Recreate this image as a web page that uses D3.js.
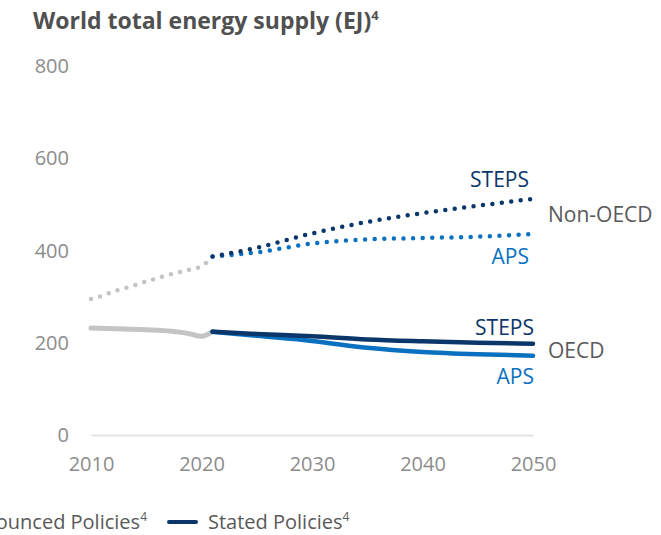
<!DOCTYPE html>
<html>
<head>
<meta charset="utf-8">
<script src="https://cdn.jsdelivr.net/npm/d3@7"></script>
<style>
  html, body { margin: 0; padding: 0; background: #fff; }
  svg { display: block; font-family: "Open Sans", "Noto Sans", sans-serif; }
</style>
</head>
<body>
<svg id="chart" width="661" height="535"></svg>
<script>
// ---- Data ----
const histYears = [2010, 2011, 2012, 2013, 2014, 2015, 2016, 2017, 2018, 2019, 2020, 2021];
const nonOecdHist = [295, 302, 311, 318, 325, 333, 340, 347, 353, 359, 366, 387];
const oecdHistYears = [2010, 2013, 2016, 2018, 2019, 2020, 2021];
const oecdHist = [232, 230, 227, 223, 219, 214, 224];

const projYears = [2021, 2025, 2030, 2035, 2040, 2045, 2050];
const nonOecdSteps = [387, 406, 437, 462, 481, 497, 512];
const nonOecdAps = [387, 396, 415, 424, 427, 430, 436];
const oecdSteps = [224, 219, 214, 207, 203, 200, 198];
const oecdAps = [224, 215, 204, 189, 180, 175, 172];

const yTicks = [0, 200, 400, 600, 800];
const xTicks = [2010, 2020, 2030, 2040, 2050];

const title = "World total energy supply (EJ)";
const legendItems = [
  { label: "Announced Policies", sup: "4", color: "#0a71c0" },
  { label: "Stated Policies", sup: "4", color: "#0b3669" }
];

// ---- Colors ----
const NAVY = "#0b3669", BLUE = "#0a71c0", GRAY = "#c4c4c4";

const svg = d3.select("#chart");
const x = d3.scaleLinear().domain([2010, 2050]).range([91, 533]);
const y = d3.scaleLinear().domain([0, 800]).range([435, 66]);

// Title
const t = svg.append("text").attr("x", 33).attr("y", 29)
  .attr("font-size", 23).attr("font-weight", 700).attr("fill", "#505050").text(title);
t.append("tspan").attr("font-size", 13).attr("dy", -9).text("4");

// Y axis labels
svg.append("g").selectAll("text").data(yTicks).join("text")
  .attr("x", 69).attr("y", d => y(d)).attr("dy", "0.35em")
  .attr("text-anchor", "end").attr("font-size", 20).attr("fill", "#8c8c8c")
  .text(d => d);

// X axis
const xAxis = d3.axisBottom(x).tickValues(xTicks).tickFormat(d3.format("d")).tickSize(0).tickPadding(22);
const gx = svg.append("g").attr("transform", `translate(0,${y(0)})`).call(xAxis);
gx.select(".domain").attr("stroke", "#e4e4e4").attr("stroke-width", 2);
gx.selectAll("text").attr("font-size", 20).attr("fill", "#8c8c8c").attr("font-family", "Open Sans");

const line = (years) => d3.line().x((d, i) => x(years[i])).y(d => y(d)).curve(d3.curveMonotoneX);

// History
svg.append("path").datum(nonOecdHist).attr("d", line(histYears))
  .attr("fill", "none").attr("stroke", GRAY).attr("stroke-width", 4.5)
  .attr("stroke-linecap", "round").attr("stroke-dasharray", "0 9.3");
svg.append("path").datum(oecdHist).attr("d", line(oecdHistYears))
  .attr("fill", "none").attr("stroke", GRAY).attr("stroke-width", 5)
  .attr("stroke-linecap", "round");

// Projections - OECD solid
svg.append("path").datum(oecdAps).attr("d", line(projYears))
  .attr("fill", "none").attr("stroke", BLUE).attr("stroke-width", 4.5).attr("stroke-linecap", "round");
svg.append("path").datum(oecdSteps).attr("d", line(projYears))
  .attr("fill", "none").attr("stroke", NAVY).attr("stroke-width", 4.5).attr("stroke-linecap", "round");

// Projections - Non-OECD dotted
svg.append("path").datum(nonOecdAps).attr("d", line(projYears))
  .attr("fill", "none").attr("stroke", BLUE).attr("stroke-width", 4.5)
  .attr("stroke-linecap", "round").attr("stroke-dasharray", "0 9.6");
svg.append("path").datum(nonOecdSteps).attr("d", line(projYears))
  .attr("fill", "none").attr("stroke", NAVY).attr("stroke-width", 4.5)
  .attr("stroke-linecap", "round").attr("stroke-dasharray", "0 9.5");

// Labels
const lab = (txt, xx, yy, color, anchor) => svg.append("text").attr("x", xx).attr("y", yy)
  .attr("text-anchor", anchor).attr("font-size", 21).attr("fill", color).text(txt);
lab("STEPS", 529, 187, NAVY, "end");
lab("APS", 529, 264, BLUE, "end");
lab("Non-OECD", 548, 222, "#595959", "start");
lab("STEPS", 534, 335, NAVY, "end");
lab("APS", 534, 384, BLUE, "end");
lab("OECD", 548, 358, "#595959", "start");

// Legend
const lg = svg.append("g");
const t1 = lg.append("text").attr("x", 147).attr("y", 529).attr("text-anchor", "end")
  .attr("font-size", 20).attr("fill", "#595959").text(legendItems[0].label);
t1.append("tspan").attr("font-size", 12).attr("dy", -8).text(legendItems[0].sup);
const w1 = t1.node().getComputedTextLength();
lg.append("line").attr("x1", 147 - w1 - 40).attr("x2", 147 - w1 - 12).attr("y1", 522).attr("y2", 522)
  .attr("stroke", legendItems[0].color).attr("stroke-width", 4).attr("stroke-linecap", "round");
lg.append("line").attr("x1", 169).attr("x2", 196).attr("y1", 522).attr("y2", 522)
  .attr("stroke", legendItems[1].color).attr("stroke-width", 4).attr("stroke-linecap", "round");
const t2 = lg.append("text").attr("x", 208).attr("y", 529)
  .attr("font-size", 20).attr("fill", "#595959").text(legendItems[1].label);
t2.append("tspan").attr("font-size", 12).attr("dy", -8).text(legendItems[1].sup);
</script>
</body>
</html>
